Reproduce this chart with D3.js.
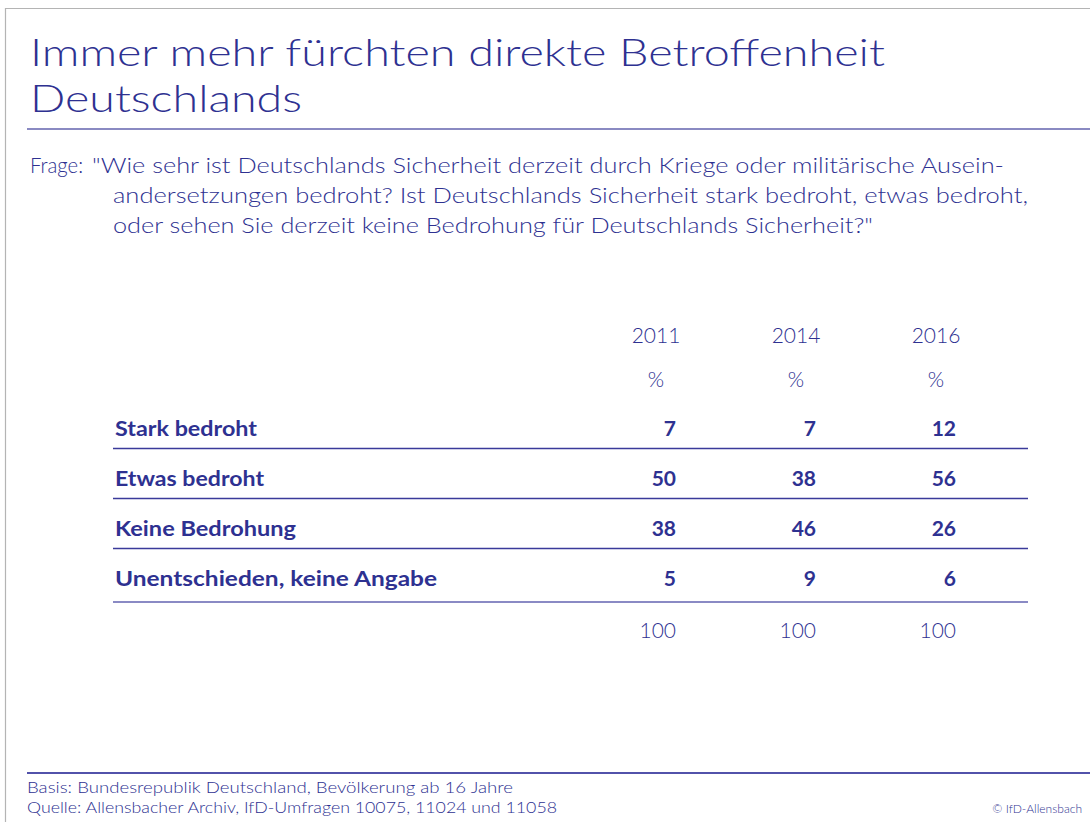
<!DOCTYPE html>
<html>
<head>
<meta charset="utf-8">
<script src="https://cdn.jsdelivr.net/npm/d3@7"></script>
<style>
  body { margin: 0; background: #fff; }
  text { font-family: Lato, "Open Sans", sans-serif; fill: #2e3191; }
</style>
</head>
<body>
<svg id="viz"></svg>
<script>
// table data
const years = ["2011", "2014", "2016"];
const rows = ["Stark bedroht", "Etwas bedroht", "Keine Bedrohung", "Unentschieden, keine Angabe"];
const v2011 = [7, 50, 38, 5];
const v2014 = [7, 38, 46, 9];
const v2016 = [12, 56, 26, 6];
const totals = [100, 100, 100];

const titleLines = ["Immer mehr fürchten direkte Betroffenheit", "Deutschlands"];
const questionLines = [
  "\"Wie sehr ist Deutschlands Sicherheit derzeit durch Kriege oder militärische Ausein-",
  "andersetzungen bedroht? Ist Deutschlands Sicherheit stark bedroht, etwas bedroht,",
  "oder sehen Sie derzeit keine Bedrohung für Deutschlands Sicherheit?\""
];
const footLines = [
  "Basis: Bundesrepublik Deutschland, Bevölkerung ab 16 Jahre",
  "Quelle: Allensbacher Archiv, IfD-Umfragen 10075, 11024 und 11058"
];

const width = 1090, height = 822;
const svg = d3.select("#viz").attr("width", width).attr("height", height);

// frame
svg.append("path")
  .attr("d", `M5.5,${height} V8.5 H${width}`)
  .attr("fill", "none").attr("stroke", "#b4b4b4").attr("stroke-width", 1.2);

// title
const titleWidths = [855, 272];
svg.selectAll(".title").data(titleLines).enter().append("text")
  .attr("class", "title")
  .attr("x", 30).attr("y", (d, i) => 66 + i * 46)
  .attr("font-size", 38).attr("font-weight", 300)
  .attr("textLength", (d, i) => titleWidths[i])
  .attr("lengthAdjust", "spacingAndGlyphs")
  .text(d => d);

svg.append("line")
  .attr("x1", 27).attr("x2", width).attr("y1", 129).attr("y2", 129)
  .attr("stroke", "#8a8ac2").attr("stroke-width", 2);

// question
svg.append("text").attr("x", 30).attr("y", 173)
  .attr("font-size", 21).attr("font-weight", 300)
  .attr("textLength", 53).attr("lengthAdjust", "spacingAndGlyphs")
  .text("Frage:");
const qX = [92, 113, 113], qW = [912, 915, 760];
svg.selectAll(".q").data(questionLines).enter().append("text")
  .attr("class", "q")
  .attr("x", (d, i) => qX[i]).attr("y", (d, i) => 173 + i * 30)
  .attr("font-size", 21).attr("font-weight", 300)
  .attr("textLength", (d, i) => qW[i]).attr("lengthAdjust", "spacingAndGlyphs")
  .text(d => d);

// scales
const x = d3.scalePoint().domain(years).range([676, 956]);
const y = d3.scaleBand().domain(rows).range([400, 600]);
const series = [v2011, v2014, v2016];

// headers
const head = svg.append("g");
head.selectAll(".yr").data(years).enter().append("text")
  .attr("x", d => x(d) - 20).attr("y", 343)
  .attr("text-anchor", "middle").attr("font-size", 21).attr("font-weight", 300)
  .text(d => d);
head.selectAll(".pct").data(years).enter().append("text")
  .attr("x", d => x(d) - 20).attr("y", 387)
  .attr("text-anchor", "middle").attr("font-size", 21).attr("font-weight", 300)
  .text("%");

// rows
const labelW = [142, 149, 181, 322];
const rowG = svg.selectAll(".row").data(rows).enter().append("g")
  .attr("transform", d => `translate(0,${y(d)})`);

rowG.append("text")
  .attr("x", 115).attr("y", 36)
  .attr("font-size", 20).attr("font-weight", 700)
  .attr("textLength", (d, i) => labelW[i]).attr("lengthAdjust", "spacingAndGlyphs")
  .text(d => d);

rowG.each(function(d, i) {
  d3.select(this).selectAll(".val").data(years).enter().append("text")
    .attr("x", yr => x(yr)).attr("y", 36)
    .attr("text-anchor", "end").attr("font-size", 21).attr("font-weight", 700)
    .text((yr, j) => series[j][i]);
});

rowG.append("line")
  .attr("x1", 113).attr("x2", 1028)
  .attr("y1", (d, i) => i === rows.length - 1 ? y.bandwidth() + 2 : y.bandwidth() - 1.5)
  .attr("y2", (d, i) => i === rows.length - 1 ? y.bandwidth() + 2 : y.bandwidth() - 1.5)
  .attr("stroke", (d, i) => i === rows.length - 1 ? "#8a8ac4" : "#3a3a9a")
  .attr("stroke-width", (d, i) => i === rows.length - 1 ? 2.2 : 1.4);

// totals
svg.selectAll(".tot").data(totals).enter().append("text")
  .attr("x", (d, i) => x(years[i])).attr("y", 638)
  .attr("text-anchor", "end").attr("font-size", 21).attr("font-weight", 300)
  .text(d => d);

// footer
svg.append("line")
  .attr("x1", 27).attr("x2", width).attr("y1", 773).attr("y2", 773)
  .attr("stroke", "#5252aa").attr("stroke-width", 2);
const footW = [486, 530];
svg.selectAll(".foot").data(footLines).enter().append("text")
  .attr("x", 27).attr("y", (d, i) => 793 + i * 20)
  .attr("font-size", 15).attr("font-weight", 300)
  .attr("textLength", (d, i) => footW[i]).attr("lengthAdjust", "spacingAndGlyphs")
  .text(d => d);
svg.append("text")
  .attr("x", 1082).attr("y", 813).attr("text-anchor", "end")
  .attr("font-size", 12).attr("font-weight", 300)
  .text("© IfD-Allensbach");
</script>
</body>
</html>
